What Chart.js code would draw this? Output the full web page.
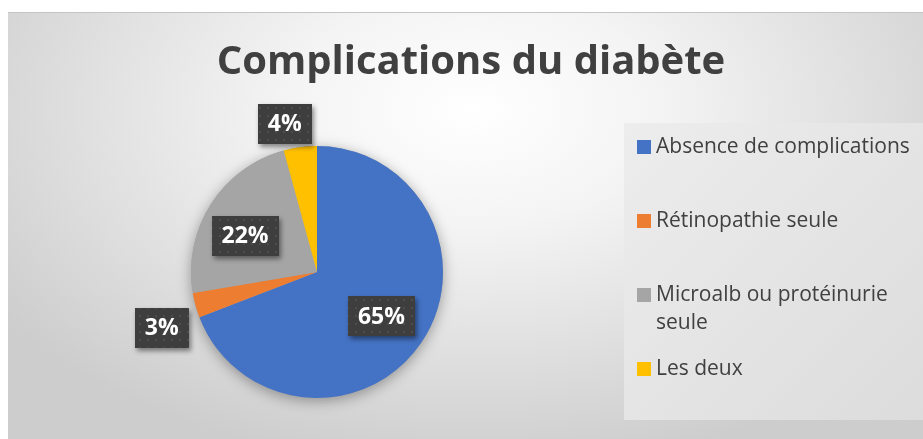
<!DOCTYPE html>
<html>
<head>
<meta charset="utf-8">
<script src="https://cdn.jsdelivr.net/npm/chart.js@4/dist/chart.umd.min.js"></script>
<style>
html, body { margin: 0; padding: 0; background: #fff; overflow: hidden; }
#frame {
  position: absolute; left: 8px; top: 12px; width: 930px; height: 440px;
  border-top: 1px solid #c4c4c4;
  background: radial-gradient(ellipse 62% 82% at 50% 22%, #ffffff 0%, #f4f4f4 32%, #cdcdcd 100%);
}
#wrap { position: absolute; left: 0; top: 0; width: 923px; height: 439px; }
</style>
</head>
<body>
<div id="frame"></div>
<div id="wrap"><canvas id="chart"></canvas></div>
<script>
const chartTitle = "Complications du diabète";
const categories = ["Absence de complications", "Rétinopathie seule", ["Microalb ou protéinurie", "seule"], "Les deux"];
const values = [65, 3, 22, 4];
const sliceColors = ["#4472C4", "#ED7D31", "#A5A5A5", "#FFC000"];

// dark dotted fill used behind the data labels
function makeDots() {
    const c = document.createElement("canvas");
    c.width = 8; c.height = 8;
    const g = c.getContext("2d");
    g.fillStyle = "#3e3e3e"; g.fillRect(0, 0, 8, 8);
    g.fillStyle = "#4d4d4d"; g.fillRect(3, 3, 2, 2);
    return c;
}

const titlePlugin = {
    id: "titleText",
    afterDraw(chart, args, opts) {
        const ctx = chart.ctx;
        ctx.save();
        ctx.font = opts.font;
        ctx.fillStyle = "#404040";
        ctx.textAlign = "center"; ctx.textBaseline = "middle";
        ctx.fillText(chartTitle, opts.x, opts.y);
        ctx.restore();
    }
};

const pieShadow = {
    id: "pieShadow",
    beforeDatasetsDraw(chart) {
        const arc = chart.getDatasetMeta(0).data[0];
        if (!arc) return;
        const ctx = chart.ctx;
        ctx.save();
        ctx.shadowColor = "rgba(0,0,0,0.35)";
        ctx.shadowBlur = 14; ctx.shadowOffsetY = 3;
        ctx.fillStyle = "#a5a5a5";
        ctx.beginPath(); ctx.arc(arc.x, arc.y, arc.outerRadius, 0, Math.PI * 2); ctx.fill();
        ctx.restore();
    }
};

const labelBoxes = {
    id: "labelBoxes",
    afterDatasetsDraw(chart, args, opts) {
        const ctx = chart.ctx;
        const pattern = ctx.createPattern(makeDots(), "repeat");
        const vals = chart.data.datasets[0].data;
        chart.getDatasetMeta(0).data.forEach((arc, i) => {
            const p = opts.place[i];
            const mid = (arc.startAngle + arc.endAngle) / 2;
            const x = arc.x + Math.cos(mid) * arc.outerRadius * p.f + (p.dx || 0);
            const y = arc.y + Math.sin(mid) * arc.outerRadius * p.f + (p.dy || 0);
            const txt = vals[i] + "%";
            ctx.save();
            ctx.font = opts.font;
            const w = ctx.measureText(txt).width + 20, h = 40;
            ctx.shadowColor = "rgba(0,0,0,0.45)";
            ctx.shadowBlur = 5; ctx.shadowOffsetX = 2; ctx.shadowOffsetY = 3;
            ctx.fillStyle = pattern;
            ctx.fillRect(Math.round(x - w / 2), Math.round(y - h / 2), Math.round(w), h);
            ctx.restore();
            ctx.save();
            ctx.font = opts.font;
            ctx.fillStyle = "#ffffff";
            ctx.textAlign = "center"; ctx.textBaseline = "middle";
            ctx.fillText(txt, x, y + 1);
            ctx.restore();
        });
    }
};

const legendPanel = {
    id: "legendPanel",
    afterDraw(chart, args, opts) {
        const ctx = chart.ctx;
        const colors = chart.data.datasets[0].backgroundColor;
        ctx.save();
        const g = ctx.createLinearGradient(opts.x, opts.y, opts.x + opts.w, opts.y + opts.h);
        g.addColorStop(0, "#ededed"); g.addColorStop(1, "#dcdcdc");
        ctx.fillStyle = g;
        ctx.fillRect(opts.x, opts.y, opts.w, opts.h);
        ctx.font = opts.font;
        ctx.textBaseline = "middle";
        chart.data.labels.forEach((lab, i) => {
            const lines = Array.isArray(lab) ? lab : [lab];
            const y = opts.firstY + i * opts.step;
            ctx.fillStyle = colors[i];
            ctx.fillRect(opts.boxX, y - 7, 14, 14);
            ctx.fillStyle = "#404040";
            lines.forEach((t, j) => ctx.fillText(t, opts.textX, y + j * opts.lineH));
        });
        ctx.restore();
    }
};

new Chart(document.getElementById("chart"), {
    type: "pie",
    data: {
        labels: categories,
        datasets: [{ data: values, backgroundColor: sliceColors, borderWidth: 0 }]
    },
    options: {
        responsive: true,
        maintainAspectRatio: false,
        animation: false,
        layout: { padding: { top: 146, bottom: 41, left: 167, right: 456 } },
        plugins: {
            legend: { display: false },
            title: { display: false },
            tooltip: { enabled: false },
            titleText: { font: "bold 40px 'Open Sans'", x: 471, y: 63 },
            labelBoxes: {
                font: "bold 23px 'Open Sans'",
                place: [{ f: 0.62 }, { f: 1.31, dx: 4, dy: 12 }, { f: 0.64, dx: -4, dy: 7 }, { f: 1.21, dx: -12, dy: 3 }]
            },
            legendPanel: {
                x: 624, y: 123, w: 300, h: 297,
                boxX: 637, textX: 656, firstY: 147, step: 74, lineH: 28,
                font: "21px 'Open Sans'"
            }
        }
    },
    plugins: [pieShadow, labelBoxes, legendPanel, titlePlugin]
});
</script>
</body>
</html>
